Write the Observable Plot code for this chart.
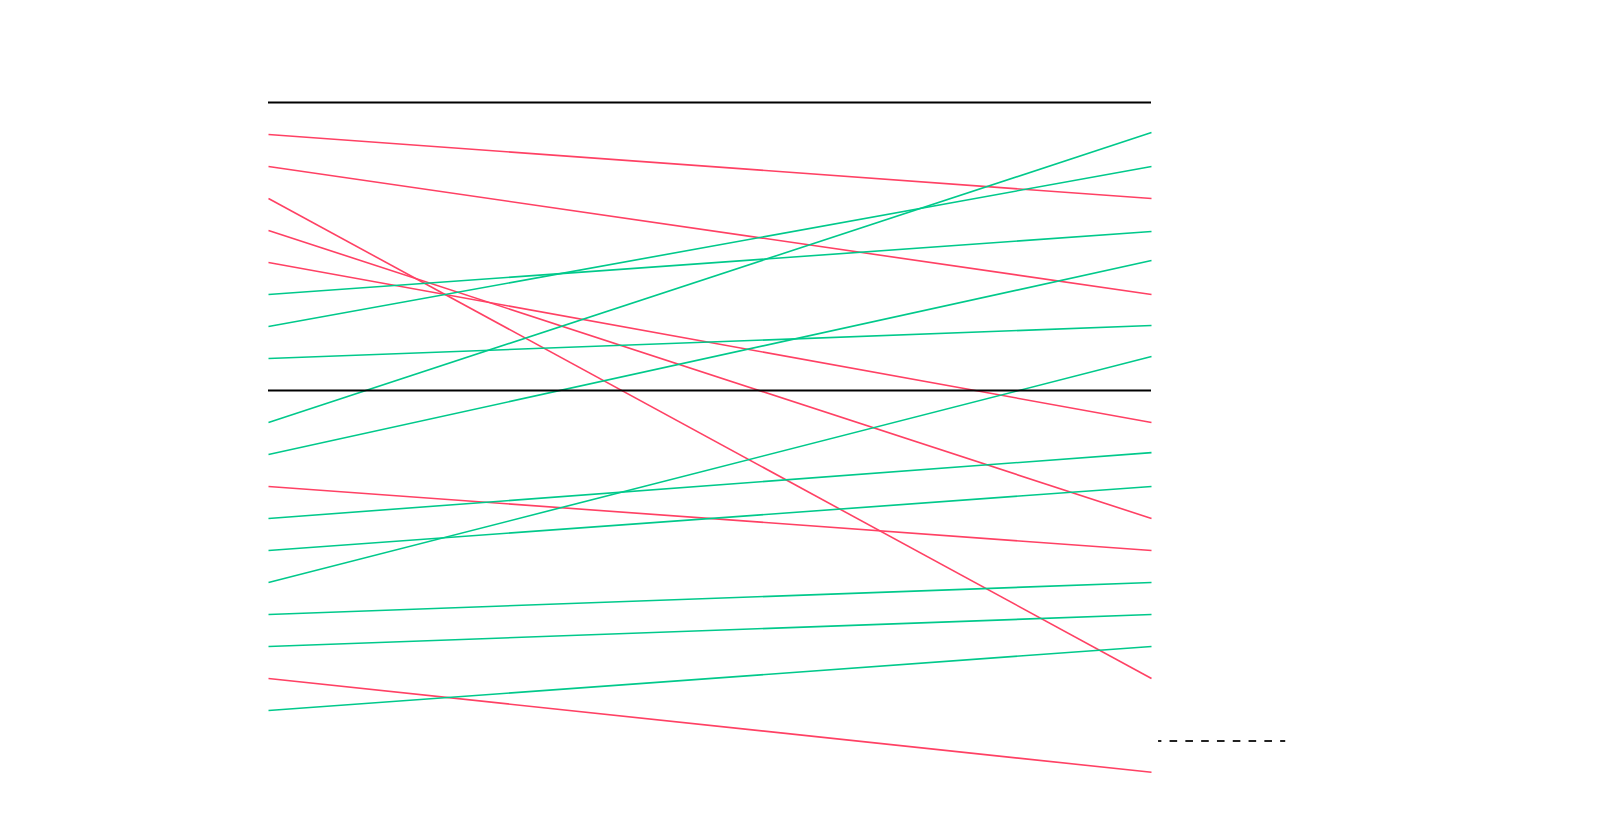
<!DOCTYPE html>
<html>
<head>
<meta charset="utf-8">
<script src="https://cdn.jsdelivr.net/npm/d3@7"></script>
<script src="https://cdn.jsdelivr.net/npm/@observablehq/plot@0.6"></script>
<style>
  html, body { margin: 0; padding: 0; background: #fff; }
  #chart svg { display: block; }
</style>
</head>
<body>
<div id="chart"></div>
<script>
// Slot positions (0 = top)
const startSlot = [1, 2, 3, 4, 5, 12, 18, 6, 7, 8, 10, 11, 13, 14, 15, 16, 17, 19];
const endSlot   = [3, 6, 18, 13, 10, 14, 20.93, 4.03, 2, 6.97, 0.94, 4.94, 10.94, 12, 7.94, 15, 16, 17];
const trend     = ["down","down","down","down","down","down","down",
                   "up","up","up","up","up","up","up","up","up","up","up"];
const dividerSlots = [0, 9];
const referenceSlot = [19.95];
const referenceSpan = [1.008, 1.152];

const trendDomain = ["down", "up"];
const trendColors = ["#ff4164", "#00c98b"];

const links = startSlot.map((s, i) => ({start: s, end: endSlot[i], trend: trend[i]}));

const chart = Plot.plot({
  width: 1600,
  height: 830,
  marginTop: 102,
  marginBottom: 56,
  marginLeft: 268,
  marginRight: 449,
  x: {domain: [0, 1], axis: null},
  y: {domain: [0, 21], reverse: true, axis: null},
  color: {domain: trendDomain, range: trendColors},
  marks: [
    Plot.link(links, {
      x1: () => 0, x2: () => 1,
      y1: "start", y2: "end",
      stroke: "trend",
      strokeWidth: 1.6
    }),
    Plot.ruleY(dividerSlots, {x1: 0, x2: 1, stroke: "#000", strokeWidth: 2}),
    Plot.ruleY(referenceSlot, {
      x1: referenceSpan[0], x2: referenceSpan[1],
      stroke: "#222", strokeWidth: 2,
      strokeDasharray: "7.6,8.2", strokeDashoffset: 4.3
    })
  ]
});
document.getElementById("chart").append(chart);
</script>
</body>
</html>
